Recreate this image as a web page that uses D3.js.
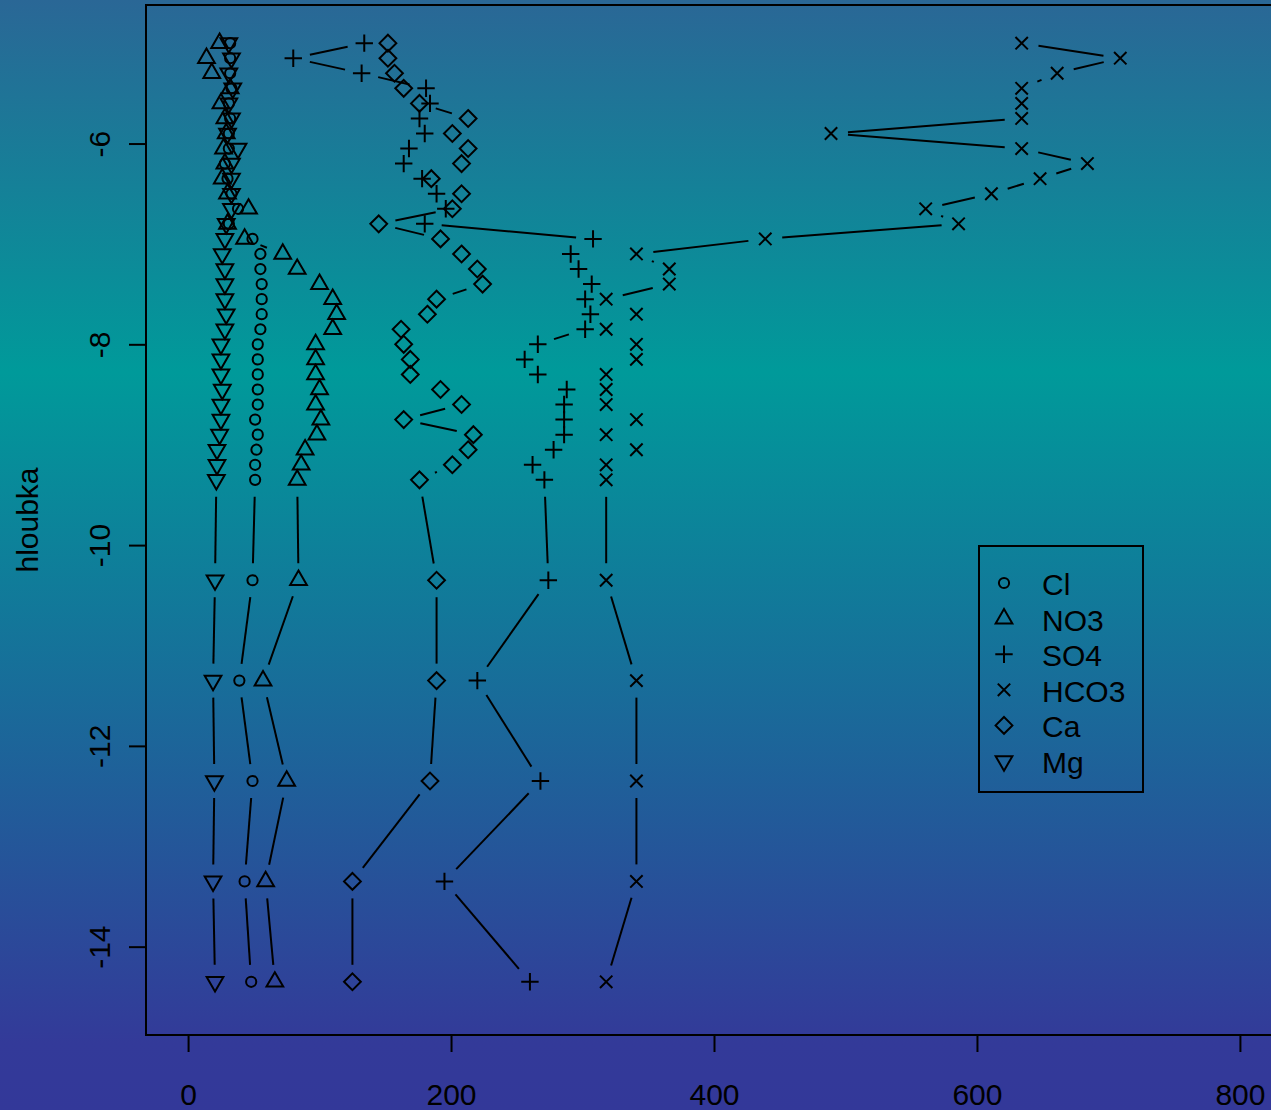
<!DOCTYPE html>
<html>
<head>
<meta charset="utf-8">
<script src="https://cdn.jsdelivr.net/npm/d3@7"></script>
<style>
  body { margin: 0; background: #333399; }
  svg text { font-family: "Liberation Sans", Arial, Helvetica, sans-serif; fill: #000; }
</style>
</head>
<body>
<div class="graph"></div>
<script>

// DATA ––––––––––––––––––––––––––––––––––––––––––––––––––––––––––––––––

var hloubka = [-5.00, -5.15, -5.30, -5.45, -5.60, -5.75, -5.90, -6.05, -6.20, -6.35,
               -6.50, -6.65, -6.80, -6.95, -7.10, -7.25, -7.40, -7.55, -7.70, -7.85,
               -8.00, -8.15, -8.30, -8.45, -8.60, -8.75, -8.90, -9.05, -9.20, -9.35,
               -10.35, -11.35, -12.35, -13.35, -14.35];

var cl   = [32, 32, 32, 33, 31, 32, 31, 31, 28, 30, 33, 38, 31, 49, 55, 55, 56, 56, 56, 55,
            53, 53, 53, 53, 53, 51, 53, 52, 51, 51, 49, 39, 49, 43, 48];
var no3  = [24, 14, 18, 32, 25, 28, 29, 27, 28, 26, 30, 46, 30, 43, 72, 83, 100, 110, 113, 110,
            97, 97, 97, 100, 97, 101, 98, 89, 86, 83, 84, 57, 75, 59, 66];
var so4  = [134, 80, 132, 181, 184, 176, 180, 168, 164, 178, 189, 196, 180, 308, 291, 297, 307, 302, 306, 302,
            266, 256, 266, 288, 286, 286, 286, 278, 262, 271, 274, 220, 268, 195, 260];
var hco3 = [634, 709, 661, 634, 634, 634, 489, 634, 684, 648, 611, 561, 586, 439, 341, 366, 366, 318, 341, 318,
            341, 341, 318, 318, 318, 341, 318, 341, 318, 318, 318, 341, 341, 341, 318];
var ca   = [152, 152, 157, 164, 176, 213, 201, 213, 208, 185, 208, 201, 145, 192, 208, 220, 224, 189, 182, 162,
            164, 169, 169, 192, 208, 164, 217, 213, 201, 176, 189, 189, 184, 125, 125];
var mg   = [31, 33, 31, 34, 31, 33, 30, 38, 33, 33, 33, 33, 29, 28, 26, 28, 28, 28, 29, 28,
            25, 25, 25, 26, 25, 25, 24, 22, 22, 21.5, 20.5, 19, 20, 19, 20.5];

var seriesNames = ["Cl", "NO3", "SO4", "HCO3", "Ca", "Mg"];
var seriesValues = [cl, no3, so4, hco3, ca, mg];
var seriesShapes = ["circle", "triUp", "plus", "cross", "diamond", "triDown"];

var xTicks = [0, 200, 400, 600, 800];
var yTicks = [-6, -8, -10, -12, -14];


// SYMBOLS (R pch 1, 2, 3, 4, 5, 6) –––––––––––––––––––––––––––––––––––

var symbolPath = function(shape, x, y) {
  var p = d3.path();
  var t = 6.2;
  if (shape === "circle") {
    p.moveTo(x + 5.1, y);
    p.arc(x, y, 5.1, 0, 2 * Math.PI);
  } else if (shape === "triUp") {
    p.moveTo(x, y - 1.555 * t);
    p.lineTo(x + 1.347 * t, y + 0.778 * t);
    p.lineTo(x - 1.347 * t, y + 0.778 * t);
    p.closePath();
  } else if (shape === "triDown") {
    p.moveTo(x, y + 1.555 * t);
    p.lineTo(x + 1.347 * t, y - 0.778 * t);
    p.lineTo(x - 1.347 * t, y - 0.778 * t);
    p.closePath();
  } else if (shape === "plus") {
    p.moveTo(x - 8.7, y); p.lineTo(x + 8.7, y);
    p.moveTo(x, y - 8.7); p.lineTo(x, y + 8.7);
  } else if (shape === "cross") {
    p.moveTo(x - 6.2, y - 6.2); p.lineTo(x + 6.2, y + 6.2);
    p.moveTo(x - 6.2, y + 6.2); p.lineTo(x + 6.2, y - 6.2);
  } else if (shape === "diamond") {
    p.moveTo(x, y - 8.4);
    p.lineTo(x + 8.4, y);
    p.lineTo(x, y + 8.4);
    p.lineTo(x - 8.4, y);
    p.closePath();
  }
  return p.toString();
};


// D3 ––––––––––––––––––––––––––––––––––––––––––––––––––––––––––––––––––

var width = 1271, height = 1110;
var box = {left: 146, top: 5, right: 1282, bottom: 1035};
var gap = 17; // type = "b": line stops short of each point
var lw = 2;

var x = d3.scaleLinear().domain([-32, 832]).range([box.left, box.right]);
var y = d3.scaleLinear().domain([-4.62, -14.88]).range([box.top, box.bottom]);

var svg = d3.select("div.graph").append("svg")
    .attr("width", width)
    .attr("height", height);

// background gradient
var grad = svg.append("defs").append("linearGradient")
    .attr("id", "bg")
    .attr("x1", 0).attr("y1", 0).attr("x2", 0).attr("y2", 1);
grad.append("stop").attr("offset", "0").attr("stop-color", "#2a6796");
grad.append("stop").attr("offset", "0.335").attr("stop-color", "#009a9a");
grad.append("stop").attr("offset", "0.94").attr("stop-color", "#333a99");
grad.append("stop").attr("offset", "1").attr("stop-color", "#333899");

svg.append("rect")
    .attr("width", width)
    .attr("height", height)
    .attr("fill", "url(#bg)");

// lines between points, with gaps
seriesValues.forEach(function(vals) {
  var segs = [];
  for (var i = 0; i < vals.length - 1; i++) {
    var x0 = x(vals[i]), y0 = y(hloubka[i]);
    var x1 = x(vals[i + 1]), y1 = y(hloubka[i + 1]);
    var len = Math.sqrt((x1 - x0) * (x1 - x0) + (y1 - y0) * (y1 - y0));
    if (len <= 2 * gap) { continue; }
    var ux = (x1 - x0) / len, uy = (y1 - y0) / len;
    segs.push([x0 + ux * gap, y0 + uy * gap, x1 - ux * gap, y1 - uy * gap]);
  }
  svg.append("g").selectAll("line")
    .data(segs)
    .enter().append("line")
      .attr("x1", function(d) { return d[0]; })
      .attr("y1", function(d) { return d[1]; })
      .attr("x2", function(d) { return d[2]; })
      .attr("y2", function(d) { return d[3]; })
      .attr("stroke", "#000")
      .attr("stroke-width", lw);
});

// the points
seriesValues.forEach(function(vals, k) {
  svg.append("g").selectAll("path")
    .data(vals)
    .enter().append("path")
      .attr("d", function(d, i) { return symbolPath(seriesShapes[k], x(d), y(hloubka[i])); })
      .attr("fill", "none")
      .attr("stroke", "#000")
      .attr("stroke-width", lw);
});

// plot box
svg.append("rect")
    .attr("x", box.left)
    .attr("y", box.top)
    .attr("width", box.right - box.left)
    .attr("height", box.bottom - box.top)
    .attr("fill", "none")
    .attr("stroke", "#000")
    .attr("stroke-width", 2);

// X axis
var xAxis = svg.append("g")
    .attr("transform", "translate(0," + box.bottom + ")")
    .call(d3.axisBottom(x).tickValues(xTicks).tickSize(17).tickPadding(32).tickFormat(d3.format("d")));
xAxis.select(".domain").remove();
xAxis.selectAll("line").attr("stroke-width", 2);
xAxis.selectAll("text").attr("font-size", 30).attr("font-family", null);

// Y axis, labels parallel to the axis
var yAxis = svg.append("g")
    .attr("transform", "translate(" + box.left + ",0)")
    .call(d3.axisLeft(y).tickValues(yTicks).tickSize(17).tickFormat(function(d) { return d; }));
yAxis.select(".domain").remove();
yAxis.selectAll("line").attr("stroke-width", 2);
yAxis.selectAll("text")
    .attr("font-size", 30)
    .attr("font-family", null)
    .attr("x", null).attr("dy", null)
    .attr("text-anchor", "middle")
    .attr("transform", "translate(-36,0) rotate(-90)");

svg.append("text")
    .attr("transform", "translate(38,520) rotate(-90)")
    .attr("text-anchor", "middle")
    .attr("font-size", 30)
    .text("hloubka");

// legend
var legend = svg.append("g");
legend.append("rect")
    .attr("x", 979).attr("y", 546)
    .attr("width", 164).attr("height", 246)
    .attr("fill", "none")
    .attr("stroke", "#000")
    .attr("stroke-width", 2);

seriesNames.forEach(function(name, k) {
  var ly = 583 + k * 35.6;
  legend.append("path")
      .attr("d", symbolPath(seriesShapes[k], 1004, ly))
      .attr("fill", "none")
      .attr("stroke", "#000")
      .attr("stroke-width", lw);
  legend.append("text")
      .attr("x", 1042)
      .attr("y", ly + 12)
      .attr("font-size", 30)
      .text(name);
});

</script>
</body>
</html>
